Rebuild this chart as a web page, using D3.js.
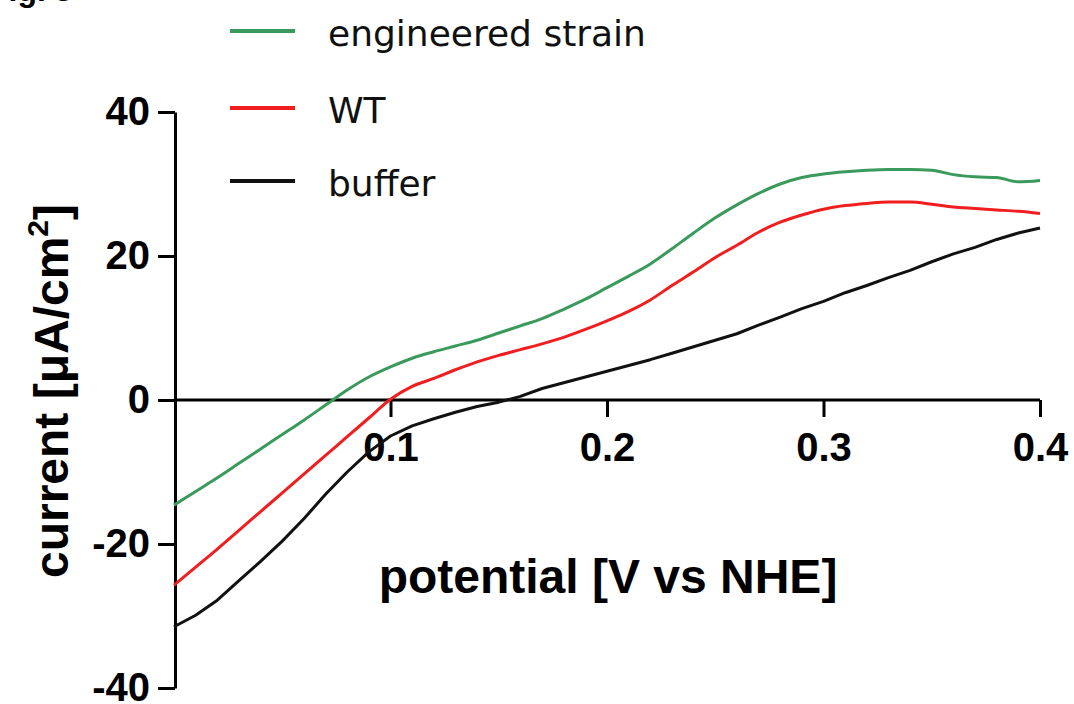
<!DOCTYPE html>
<html>
<head>
<meta charset="utf-8">
<script src="https://cdn.jsdelivr.net/npm/d3@7"></script>
<style>
  html, body { margin: 0; padding: 0; background: #fff; }
  svg { display: block; }
</style>
</head>
<body>
<svg id="chart" width="1074" height="704"></svg>
<script>
// ---- data ----
const potential = d3.range(0, 41).map(i => +(i * 0.01).toFixed(2)); // V vs NHE, 0.00..0.40
const engineered = [-14.6, -12.7, -10.8, -8.8, -6.8, -4.8, -2.8, -0.7, 1.4, 3.2,
  4.6, 5.8, 6.7, 7.5, 8.3, 9.3, 10.3, 11.3, 12.6, 14.0,
  15.6, 17.2, 18.9, 21.0, 23.2, 25.3, 27.1, 28.7, 30.0, 30.9,
  31.4, 31.7, 31.9, 32.0, 32.0, 31.9, 31.3, 31.0, 30.9, 30.3, 30.5];
const wildType = [-25.7, -23.2, -20.7, -18.1, -15.5, -12.9, -10.3, -7.7, -5.1, -2.5,
  0.1, 1.9, 3.0, 4.2, 5.3, 6.2, 7.0, 7.8, 8.7, 9.8,
  11.0, 12.3, 13.9, 15.9, 17.8, 19.8, 21.5, 23.3, 24.7, 25.7,
  26.5, 27.0, 27.3, 27.5, 27.5, 27.2, 26.8, 26.6, 26.4, 26.2, 25.9];
const buffer = [-31.5, -29.9, -27.8, -25.1, -22.4, -19.6, -16.5, -13.1, -10.0, -7.2,
  -5.0, -3.6, -2.6, -1.7, -0.9, -0.3, 0.5, 1.6, 2.4, 3.2,
  4.0, 4.8, 5.6, 6.5, 7.4, 8.3, 9.2, 10.4, 11.5, 12.7,
  13.7, 14.9, 15.9, 17.0, 18.0, 19.2, 20.3, 21.2, 22.3, 23.2, 23.9];
const seriesNames = ["engineered strain", "WT", "buffer"];
const seriesColors = ["#3a9a5c", "#f01e1e", "#111111"];
const xTicks = [0.1, 0.2, 0.3, 0.4];
const yTicks = [-40, -20, 0, 20, 40];
const yTickLabels = ["-40", "-20", "0", "20", "40"];
const xTickLabels = ["0.1", "0.2", "0.3", "0.4"];

// ---- scales ----
const svg = d3.select("#chart");
const x = d3.scaleLinear().domain([0, 0.4]).range([174, 1040]);
const y = d3.scaleLinear().domain([-40, 40]).range([688, 112]);

const FONT = "'Liberation Sans', Arial, Helvetica, sans-serif";

// cropped figure label fragment at top-left
svg.append("text").attr("x", -11).attr("y", 1)
  .attr("font-family", FONT).attr("font-weight", "bold").attr("font-size", 32)
  .attr("fill", "#000").text("Fig. 3");

// ---- axes ----
const yAxis = d3.axisLeft(y).tickValues(yTicks).tickSizeInner(17).tickSizeOuter(0).tickPadding(8)
  .tickFormat((d, i) => yTickLabels[i]);
const gy = svg.append("g").attr("transform", "translate(175,0)").call(yAxis);

const xAxis = d3.axisBottom(x).tickValues(xTicks).tickSizeInner(17).tickSizeOuter(0).tickPadding(16)
  .tickFormat((d, i) => xTickLabels[i]);
const gx = svg.append("g").attr("transform", `translate(0,${y(0)})`).call(xAxis);

[gx, gy].forEach(g => {
  g.select(".domain").attr("stroke", "#000").attr("stroke-width", 3);
  g.selectAll(".tick line").attr("stroke", "#000").attr("stroke-width", 3);
  g.selectAll(".tick text").attr("font-family", FONT).attr("font-weight", "bold")
    .attr("font-size", 40).attr("fill", "#000");
});
gx.select(".domain").attr("d", `M${x(0) + 1},0H${x(0.4)}`);

// ---- lines ----
const line = d3.line().x((d, i) => x(potential[i])).y(d => y(d));
const allSeries = [engineered, wildType, buffer];
// draw buffer first, then WT, then engineered on top
[2, 1, 0].forEach(k => {
  svg.append("path").datum(allSeries[k])
    .attr("fill", "none").attr("stroke", seriesColors[k])
    .attr("stroke-width", 3).attr("stroke-linejoin", "round")
    .attr("d", line.curve(k === 2 ? d3.curveLinear : d3.curveMonotoneX));
});

// ---- axis titles ----
svg.append("text").attr("x", 608).attr("y", 593).attr("text-anchor", "middle")
  .attr("font-family", FONT).attr("font-weight", "bold").attr("font-size", 48)
  .attr("fill", "#000").text("potential [V vs NHE]");

const yt = svg.append("text").attr("transform", "translate(68,391) rotate(-90)")
  .attr("text-anchor", "middle")
  .attr("font-family", FONT).attr("font-weight", "bold").attr("font-size", 48)
  .attr("fill", "#000");
yt.append("tspan").text("current [μA/cm");
yt.append("tspan").attr("font-size", 30).attr("dy", -20).text("2");
yt.append("tspan").attr("dy", 20).text("]");

// ---- legend ----
const legendY = [31, 108, 181];
seriesNames.forEach((name, i) => {
  svg.append("line").attr("x1", 230).attr("x2", 295)
    .attr("y1", legendY[i]).attr("y2", legendY[i])
    .attr("stroke", seriesColors[i]).attr("stroke-width", 4);
  svg.append("text").attr("x", 328).attr("y", legendY[i] + 15)
    .attr("font-family", "'DejaVu Sans', Verdana, sans-serif").attr("font-size", 36)
    .attr("fill", "#111").text(name);
});
</script>
</body>
</html>
